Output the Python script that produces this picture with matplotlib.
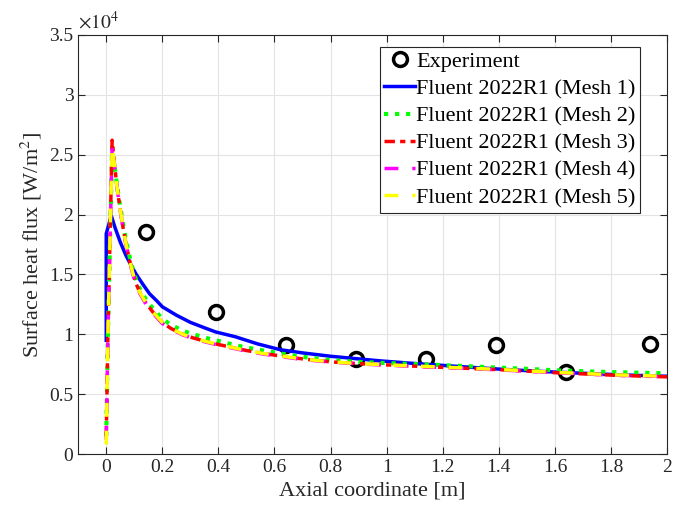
import numpy as np
import matplotlib
matplotlib.use('Agg')
import matplotlib.pyplot as plt
from matplotlib.ticker import FuncFormatter

# values, heat flux in units of 1e4 W/m^2
exp_x = [0.14, 0.39, 0.64, 0.89, 1.14, 1.39, 1.64, 1.94]
exp_q = [1.85, 1.19, 0.915, 0.79, 0.795, 0.915, 0.683, 0.92]

mesh1_x = [0, 0, 0.018, 0.03, 0.05, 0.07, 0.09, 0.107, 0.13, 0.154, 0.18,
           0.2, 0.25, 0.3, 0.35, 0.39, 0.46, 0.54, 0.62, 0.7, 0.8, 0.9, 0.98,
           1.08, 1.16, 1.3, 1.4, 1.5, 1.6, 1.7, 1.8, 1.9, 2.0]
mesh1_q = [0.95, 1.84, 1.99, 1.90, 1.77, 1.66, 1.57, 1.50, 1.42, 1.34, 1.28,
           1.23, 1.16, 1.10, 1.055, 1.02, 0.98, 0.92, 0.872, 0.845, 0.817,
           0.795, 0.778, 0.76, 0.747, 0.725, 0.71, 0.697, 0.685, 0.675, 0.665,
           0.657, 0.65]

# meshes 2-5 share the same axial stations
mesh_x = [0.0, 0.006, 0.021, 0.028, 0.036, 0.045, 0.06, 0.07, 0.083, 0.095,
          0.107, 0.12, 0.142, 0.165, 0.2, 0.23, 0.273, 0.31, 0.356, 0.4,
          0.45, 0.5, 0.56, 0.62, 0.7, 0.8, 0.9, 1.0, 1.16, 1.3, 1.4, 1.5,
          1.6, 1.7, 1.8, 1.9, 2.0]
mesh2_q = [0.15, 1.0, 2.56, 2.44, 2.29, 2.14, 1.92, 1.79, 1.65, 1.54,
           1.45, 1.38, 1.29, 1.22, 1.13, 1.08, 1.03, 1.0, 0.97, 0.945,
           0.915, 0.89, 0.865, 0.84, 0.812, 0.785, 0.77, 0.76, 0.747, 0.733,
           0.722, 0.712, 0.70, 0.692, 0.685, 0.68, 0.675]
mesh3_q = [0.15, 1.0, 2.62, 2.45, 2.28, 2.12, 1.89, 1.76, 1.62, 1.51,
           1.42, 1.35, 1.26, 1.19, 1.10, 1.05, 1.0, 0.97, 0.94, 0.915,
           0.89, 0.865, 0.84, 0.82, 0.795, 0.77, 0.755, 0.745, 0.728, 0.715,
           0.705, 0.693, 0.68, 0.67, 0.66, 0.652, 0.645]
mesh4_q = [0.12, 1.0, 2.58, 2.43, 2.27, 2.11, 1.88, 1.75, 1.61, 1.50,
           1.41, 1.34, 1.25, 1.18, 1.09, 1.045, 0.995, 0.965, 0.935, 0.91,
           0.885, 0.86, 0.835, 0.815, 0.79, 0.768, 0.753, 0.743, 0.727, 0.714,
           0.703, 0.692, 0.68, 0.67, 0.66, 0.653, 0.648]
mesh5_q = [0.08, 1.0, 2.57, 2.44, 2.27, 2.12, 1.89, 1.76, 1.62, 1.51,
           1.42, 1.35, 1.26, 1.19, 1.10, 1.05, 1.0, 0.97, 0.94, 0.915,
           0.89, 0.865, 0.84, 0.82, 0.795, 0.77, 0.756, 0.745, 0.73, 0.717,
           0.707, 0.695, 0.683, 0.673, 0.663, 0.656, 0.65]

labels = ['Fluent 2022R1 (Mesh %d)' % i for i in range(1, 6)]

plt.rcParams['font.family'] = ['Liberation Serif', 'DejaVu Serif']
plt.rcParams['mathtext.fontset'] = 'stix'

fig = plt.figure(figsize=(6.8, 5.12), dpi=100)
ax = fig.add_axes([0.115, 0.113, 0.866, 0.819])

ax.plot(exp_x, exp_q, 'o', ms=10, mfc='none', mec='black', mew=2.5,
        label='Experiment')
ax.plot(mesh1_x, mesh1_q, '-', color='blue', lw=2.5, label=labels[0])
ax.plot(mesh_x, mesh2_q, ':', color='#00ff00', lw=3, label=labels[1])
ax.plot(mesh_x, mesh3_q, color='red', lw=2.5, dashes=(3, 1.5, 1.5, 1.5),
        label=labels[2])
ax.plot(mesh_x, mesh4_q, '--', color='magenta', lw=2.5, dashes=(4, 4),
        label=labels[3])
ax.plot(mesh_x, mesh5_q, '--', color='yellow', lw=2.5, dashes=(4, 4),
        label=labels[4])

ax.set_xlim(-0.1, 2)
ax.set_ylim(0, 3.5)
ax.set_xticks(np.arange(0, 2.01, 0.2))
ax.set_yticks(np.arange(0, 3.51, 0.5))
fmt = FuncFormatter(lambda v, p: '%g' % round(v, 2))
ax.xaxis.set_major_formatter(fmt)
ax.yaxis.set_major_formatter(fmt)

ax.grid(True, color='#e3e3e3', lw=0.8)
ax.set_axisbelow(True)
ax.tick_params(direction='in', top=True, right=True, length=5,
               labelsize=14, colors='#262626')
for s in ax.spines.values():
    s.set_color('#262626')

ax.text(0, 1.005, r'$\times10^{4}$', transform=ax.transAxes,
        ha='left', va='bottom', fontsize=14, color='#262626')

ax.set_xlabel('Axial coordinate [m]', fontsize=16, color='#262626')
ax.set_ylabel('Surface heat flux [W/m$^2$]', fontsize=16, color='#262626')

leg = ax.legend(loc='upper right', bbox_to_anchor=(0.954, 0.971),
                borderaxespad=0, fontsize=16, handlelength=1.4,
                handletextpad=0.05, labelspacing=0.3, borderpad=0.2,
                fancybox=False, framealpha=1, edgecolor='#262626')
leg.get_frame().set_linewidth(0.8)

fig.savefig('out.png', dpi=100)
